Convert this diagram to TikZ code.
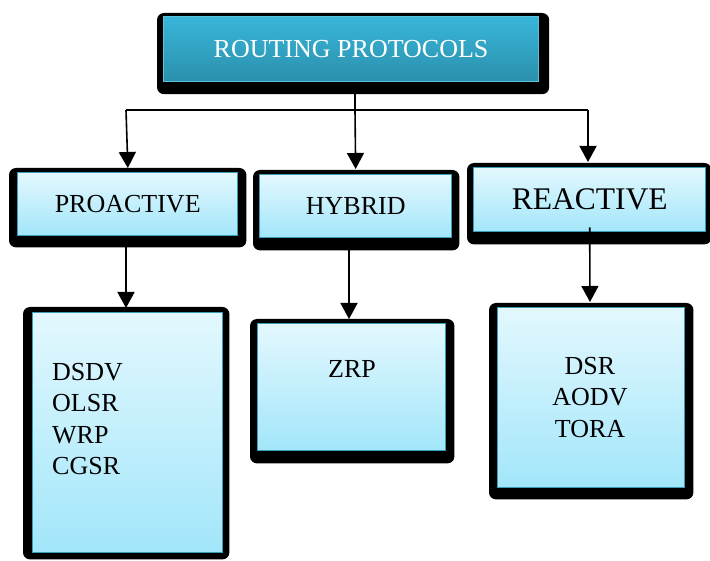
\documentclass[tikz,border=0pt]{standalone}
\usepackage{fontspec}
\setmainfont{Liberation Serif}
\usetikzlibrary{arrows.meta,backgrounds,calc}
\definecolor{topA}{HTML}{38B5D9}
\definecolor{topB}{HTML}{2B90AC}
\definecolor{topEdge}{HTML}{5CC3DD}
\definecolor{subA}{HTML}{E3F8FE}
\definecolor{subB}{HTML}{A2E6FA}
\definecolor{subEdge}{HTML}{3A9CB6}
\tikzset{
  x=1pt, y=-1pt,
  mainbox/.style={rectangle, anchor=north west, inner sep=0pt, draw=topEdge, line width=1.2pt,
    top color=topA, bottom color=topB, text=white, font=\fontsize{26}{31}\selectfont},
  subbox/.style={rectangle, anchor=north west, inner sep=0pt, draw=subEdge, line width=1.4pt,
    top color=subA, bottom color=subB, text=black, font=\fontsize{26}{31}\selectfont},
  listtext/.style={inner sep=0pt, font=\fontsize{26}{31.3}\selectfont},
  shadowbox/.style={fill=black, rounded corners=7pt},
  arr/.style={line width=1.6pt, -{Triangle[width=17pt,length=16pt]}},
  plainline/.style={line width=1.6pt}
}
\begin{document}
\begin{tikzpicture}
\useasboundingbox (0,0) rectangle (710,561);
% boxes
\node[mainbox, minimum width=375pt, minimum height=65pt] (top) at (163,16) {ROUTING PROTOCOLS};
\node[subbox, minimum width=220pt, minimum height=63pt] (pro) at (17,172) {PROACTIVE};
\node[subbox, minimum width=192pt, minimum height=63pt] (hyb) at (259,174) {HYBRID};
\node[subbox, minimum width=232pt, minimum height=64pt, font=\fontsize{31.5}{36}\selectfont] (rea) at (473,167) {REACTIVE};
\node[subbox, minimum width=190pt, minimum height=240pt] (probox) at (32,312) {};
\node[subbox, minimum width=188pt, minimum height=127pt] (hybbox) at (257,323) {};
\node[subbox, minimum width=187pt, minimum height=180pt] (reabox) at (497,307) {};
% texts inside lower boxes
\node[listtext, anchor=north west, align=left] (protext) at (52,363) {DSDV\\OLSR\\WRP\\CGSR};
\node[listtext, anchor=north] (hybtext) at (352,360) {ZRP};
\node[listtext, anchor=north, align=center] (reatext) at (590,357) {DSR\\AODV\\TORA};
% black rounded backs
\begin{scope}[on background layer]
\fill[shadowbox] ($(top.north west)+(-6,-3)$) rectangle ($(top.south east)+(10,12)$);
\fill[shadowbox] ($(pro.north west)+(-8,-4)$) rectangle ($(pro.south east)+(8,11)$);
\fill[shadowbox] ($(hyb.north west)+(-6,-4)$) rectangle ($(hyb.south east)+(7,12)$);
\fill[shadowbox] ($(rea.north west)+(-6,-4)$) rectangle ($(rea.south east)+(5,12)$);
\fill[shadowbox] ($(probox.north west)+(-9,-5)$) rectangle ($(probox.south east)+(6,6)$);
\fill[shadowbox] ($(hybbox.north west)+(-7,-4)$) rectangle ($(hybbox.south east)+(8,12)$);
\fill[shadowbox] ($(reabox.north west)+(-8,-4)$) rectangle ($(reabox.south east)+(8,11)$);
\end{scope}
% connectors
\coordinate (jl) at (126,110);
\coordinate (jm) at (355,110);
\coordinate (jr) at (588,110);
\draw[plainline] (jl) -- (jr);
\draw[plainline] (top.south -| jm) -- (jm);
\draw[arr, shorten >=4pt] (jl) -- (pro.north -| 128,0);
\draw[arr, shorten >=5pt] (jm) -- (hyb.north);
\draw[arr, shorten >=5pt] (jr) -- (rea.north -| jr);
\draw[arr, shorten >=4pt] (pro.south -| 126,0) -- (probox.north -| 126,0);
\draw[arr, shorten >=4pt] (hyb.south -| 349,0) -- (hybbox.north -| 349,0);
\draw[arr, shorten >=5pt] ($(rea.south)+(0,-5)$) -- (reabox.north -| 590,0);
\end{tikzpicture}
\end{document}
